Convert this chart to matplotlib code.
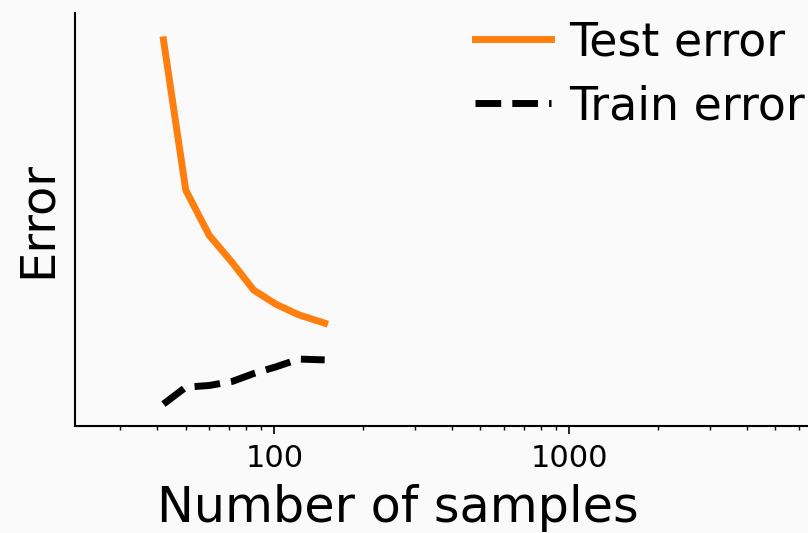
import matplotlib
matplotlib.use("Agg")
import matplotlib.pyplot as plt
from matplotlib.ticker import ScalarFormatter, NullFormatter

# learning curve: error vs training set size
n_samples = [42, 50, 60, 72, 85, 101, 121, 148]
test_error = [0.935, 0.571, 0.462, 0.395, 0.329, 0.295, 0.269, 0.249]
train_error = [0.053, 0.094, 0.098, 0.108, 0.127, 0.143, 0.162, 0.160]

fig = plt.figure(figsize=(8.08, 5.33), dpi=100, facecolor="#fafafa")
ax = fig.add_axes([0.0925, 0.2008, 0.9075, 0.7748])
ax.set_facecolor("#fafafa")

ax.plot(n_samples, test_error, color="#ff7f0e", lw=5, label="Test error")
ax.plot(n_samples, train_error, color="black", lw=5, ls="--", label="Train error")

ax.set_xscale("log")
ax.set_xlim(21, 6460)
ax.set_ylim(0, 1)
ax.xaxis.set_major_formatter(ScalarFormatter())
ax.xaxis.set_minor_formatter(NullFormatter())
ax.set_yticks([])

ax.spines["top"].set_visible(False)
ax.spines["right"].set_visible(False)
ax.spines["left"].set_linewidth(1.5)
ax.spines["bottom"].set_linewidth(1.5)
ax.tick_params(axis="x", which="major", length=6, width=1.2, labelsize=22, pad=7)
ax.tick_params(axis="x", which="minor", length=3.2, width=1)

ax.set_xlabel("Number of samples", fontsize=35.5)
ax.xaxis.set_label_coords(0.44, -0.232, transform=ax.transAxes)
ax.xaxis.label.set_va("baseline")
ax.set_ylabel("Error", fontsize=34.5, labelpad=10)

ax.legend(loc="upper left", bbox_to_anchor=(475 / 808, 1 - 20 / 533),
          bbox_transform=fig.transFigure, frameon=False, fontsize=33,
          handlelength=1.65, handletextpad=0.4, labelspacing=0.42,
          borderpad=0, borderaxespad=0)

fig.savefig("out.png", dpi=100, facecolor=fig.get_facecolor())
